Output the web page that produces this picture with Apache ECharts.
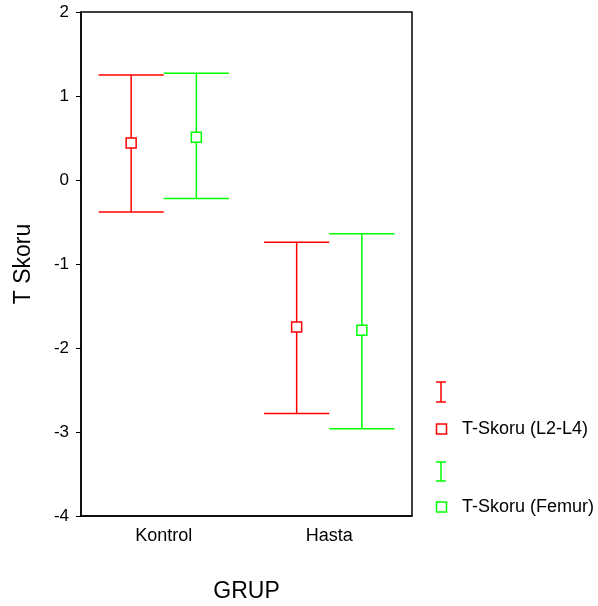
<!DOCTYPE html>
<html>
<head>
<meta charset="utf-8">
<script src="https://cdn.jsdelivr.net/npm/echarts@6/dist/echarts.min.js"></script>
<style>
  html, body { margin: 0; padding: 0; background: #fff; }
  #chart { width: 598px; height: 606px; }
</style>
</head>
<body>
<div id="chart"></div>
<script>
var categories = ['Kontrol', 'Hasta'];
var l2l4Mean = [0.44, -1.75];
var l2l4Upper = [1.25, -0.74];
var l2l4Lower = [-0.38, -2.78];
var femurMean = [0.51, -1.79];
var femurUpper = [1.27, -0.64];
var femurLower = [-0.22, -2.96];

var RED = '#ff0000';
var GREEN = '#00ff00';
var FONT = 'Liberation Sans, Arial, sans-serif';

function rows(mean, upper, lower) {
    return categories.map(function (c, i) {
        return [i, upper[i], lower[i], mean[i]];
    });
}

function errorBar(offset, color) {
    return function (params, api) {
        var i = api.value(0);
        var band = api.size([1, 0])[0];
        var top = api.coord([i, api.value(1)]);
        var bot = api.coord([i, api.value(2)]);
        var mid = api.coord([i, api.value(3)]);
        var x = top[0] + offset * band;
        var half = band * 0.197;
        var style = { stroke: color, lineWidth: 1.5, fill: null };
        return {
            type: 'group',
            children: [
                { type: 'line', shape: { x1: x, y1: top[1], x2: x, y2: bot[1] }, style: style },
                { type: 'line', shape: { x1: x - half, y1: top[1], x2: x + half, y2: top[1] }, style: style },
                { type: 'line', shape: { x1: x - half, y1: bot[1], x2: x + half, y2: bot[1] }, style: style },
                { type: 'rect', shape: { x: x - 5, y: mid[1] - 5, width: 10, height: 10 },
                  style: { stroke: color, lineWidth: 1.5, fill: '#fff' } }
            ]
        };
    };
}

var chart = echarts.init(document.getElementById('chart'));

chart.setOption({
    animation: false,
    grid: {
        left: 81, right: 186, top: 12, bottom: 90,
        outerBoundsMode: 'none',
        show: true, borderColor: '#000', borderWidth: 1.5, backgroundColor: 'transparent'
    },
    xAxis: {
        type: 'category',
        data: categories,
        name: 'GRUP',
        nameLocation: 'middle',
        nameGap: 64,
        nameTextStyle: { fontFamily: FONT, fontSize: 23, color: '#000' },
        axisLine: { onZero: false, lineStyle: { color: '#000', width: 1.5 } },
        axisTick: { alignWithLabel: true, length: 5, lineStyle: { color: '#000' } },
        axisLabel: { fontFamily: FONT, fontSize: 18, color: '#000', margin: 11 },
        splitLine: { show: false }
    },
    yAxis: {
        type: 'value',
        min: -4, max: 2, interval: 1,
        name: 'T Skoru',
        nameLocation: 'middle',
        nameGap: 46,
        nameTextStyle: { fontFamily: FONT, fontSize: 23, color: '#000' },
        axisLine: { show: true, lineStyle: { color: '#000', width: 1.5 } },
        axisTick: { show: true, length: 5, lineStyle: { color: '#000' } },
        axisLabel: { fontFamily: FONT, fontSize: 17, color: '#000', margin: 12 },
        splitLine: { show: false }
    },
    series: [
        {
            name: 'T-Skoru (L2-L4)',
            type: 'custom',
            renderItem: errorBar(-0.197, RED),
            encode: { x: 0, y: [1, 2, 3] },
            data: rows(l2l4Mean, l2l4Upper, l2l4Lower)
        },
        {
            name: 'T-Skoru (Femur)',
            type: 'custom',
            renderItem: errorBar(0.197, GREEN),
            encode: { x: 0, y: [1, 2, 3] },
            data: rows(femurMean, femurUpper, femurLower)
        }
    ],
    graphic: [
        // legend: error bar glyph + mean square for each series
        { type: 'line', shape: { x1: 441, y1: 382, x2: 441, y2: 402 }, style: { stroke: RED, lineWidth: 1.5 } },
        { type: 'line', shape: { x1: 436, y1: 382, x2: 446, y2: 382 }, style: { stroke: RED, lineWidth: 1.5 } },
        { type: 'line', shape: { x1: 436, y1: 402, x2: 446, y2: 402 }, style: { stroke: RED, lineWidth: 1.5 } },
        { type: 'rect', shape: { x: 436.5, y: 424, width: 10, height: 10 }, style: { stroke: RED, lineWidth: 1.5, fill: '#fff' } },
        { type: 'text', x: 462, y: 429, style: { text: 'T-Skoru (L2-L4)', font: '18px ' + FONT, fill: '#000', verticalAlign: 'middle' } },
        { type: 'line', shape: { x1: 441, y1: 462, x2: 441, y2: 481 }, style: { stroke: GREEN, lineWidth: 1.5 } },
        { type: 'line', shape: { x1: 436, y1: 462, x2: 446, y2: 462 }, style: { stroke: GREEN, lineWidth: 1.5 } },
        { type: 'line', shape: { x1: 436, y1: 481, x2: 446, y2: 481 }, style: { stroke: GREEN, lineWidth: 1.5 } },
        { type: 'rect', shape: { x: 436.5, y: 502, width: 10, height: 10 }, style: { stroke: GREEN, lineWidth: 1.5, fill: '#fff' } },
        { type: 'text', x: 462, y: 507, style: { text: 'T-Skoru (Femur)', font: '18px ' + FONT, fill: '#000', verticalAlign: 'middle' } }
    ]
});
</script>
</body>
</html>
